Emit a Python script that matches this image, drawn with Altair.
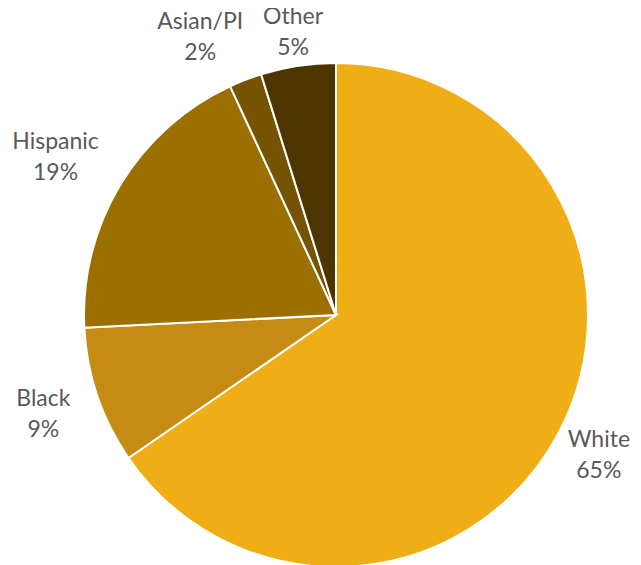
import altair as alt
import pandas as pd

categories = ["White", "Black", "Hispanic", "Asian/PI", "Other"]
values = [65.4, 8.8, 18.9, 2.1, 4.8]
colors = ["#EFAE16", "#C68B12", "#9C7000", "#765300", "#4D3500"]

df = pd.DataFrame({"cat": categories, "val": values, "order": list(range(len(categories)))})

arc = alt.Chart(df).mark_arc(stroke="white", strokeWidth=2).encode(
    theta=alt.Theta("val:Q", stack=True),
    order=alt.Order("order:Q"),
    color=alt.Color("cat:N", scale=alt.Scale(domain=categories, range=colors), legend=None),
    radius=alt.value(252),
    x=alt.value(328),
    y=alt.value(307),
)

text = alt.Chart(df).transform_window(
    cum="sum(val)", sort=[alt.SortField("order")], frame=[None, 0]
).transform_joinaggregate(
    total="sum(val)"
).transform_calculate(
    adj="datum.cat == 'Asian/PI' ? -5 : (datum.cat == 'Hispanic' ? -1.7 : (datum.cat == 'White' ? 0.4 : 0))",
).transform_calculate(
    mid="(datum.cum - datum.val / 2) / datum.total * 2 * PI + datum.adj * PI / 180",
    label="datum.cat + '\\n' + format(datum.val, '.0f') + '%'",
    lr="datum.cat == 'Other' ? 286 : (datum.cat == 'Hispanic' ? 322 : (datum.cat == 'White' ? 298 : 309))",
).mark_text(
    lineBreak="\n", fontSize=23, font="Lato", color="#595959",
    align="center", baseline="middle", lineHeight=31, dy=-15,
).encode(
    theta=alt.Theta("mid:Q", scale=None, stack=None),
    radius=alt.Radius("lr:Q", scale=None),
    text="label:N",
    x=alt.value(328),
    y=alt.value(307),
)

chart = alt.layer(arc, text).properties(
    width=625, height=557, padding=0, autosize=alt.AutoSizeParams(type="none")
).configure_view(stroke=None)

chart.save("out.html", embed_options={"renderer": "svg", "actions": False})
